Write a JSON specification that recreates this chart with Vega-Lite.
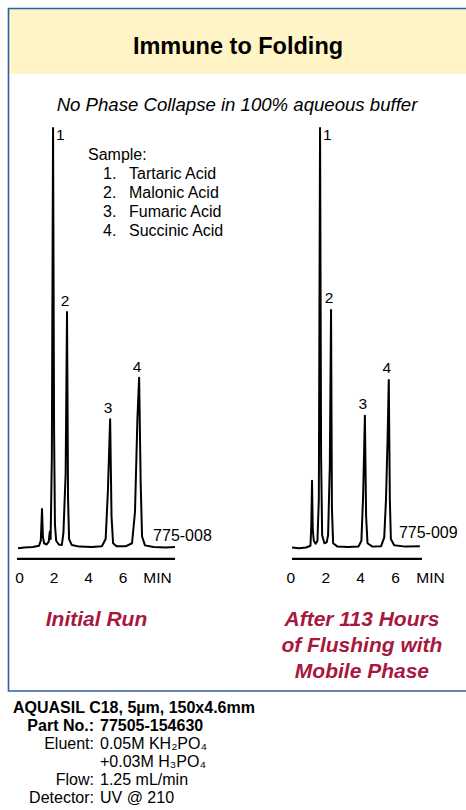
{
  "$schema": "https://vega.github.io/schema/vega-lite/v6.json",
  "width": 466,
  "height": 810,
  "autosize": {"type": "none"},
  "padding": 0,
  "background": "white",
  "config": {"view": {"stroke": null}, "font": "Liberation Sans", "text": {"font": "Liberation Sans", "color": "black"}},
  "datasets": {
    "chrom": [
      {"run": "Initial Run", "t": -0.06, "signal": 0.4}, {"run": "Initial Run", "t": 0.3, "signal": 0.6}, {"run": "Initial Run", "t": 0.8, "signal": 0.7},
      {"run": "Initial Run", "t": 1.15, "signal": 1.0}, {"run": "Initial Run", "t": 1.26, "signal": 2.2}, {"run": "Initial Run", "t": 1.33, "signal": 9.7},
      {"run": "Initial Run", "t": 1.38, "signal": 3.2}, {"run": "Initial Run", "t": 1.45, "signal": 1.6}, {"run": "Initial Run", "t": 1.6, "signal": 1.3},
      {"run": "Initial Run", "t": 1.72, "signal": 2.0}, {"run": "Initial Run", "t": 1.78, "signal": 4.3}, {"run": "Initial Run", "t": 1.83, "signal": 2.6},
      {"run": "Initial Run", "t": 1.9, "signal": 22}, {"run": "Initial Run", "t": 1.97, "signal": 100}, {"run": "Initial Run", "t": 2.03, "signal": 28},
      {"run": "Initial Run", "t": 2.08, "signal": 6}, {"run": "Initial Run", "t": 2.15, "signal": 2.2}, {"run": "Initial Run", "t": 2.3, "signal": 1.3},
      {"run": "Initial Run", "t": 2.48, "signal": 1.2}, {"run": "Initial Run", "t": 2.57, "signal": 4.0}, {"run": "Initial Run", "t": 2.7, "signal": 18},
      {"run": "Initial Run", "t": 2.78, "signal": 56.4}, {"run": "Initial Run", "t": 2.84, "signal": 12}, {"run": "Initial Run", "t": 2.9, "signal": 2.6},
      {"run": "Initial Run", "t": 3.05, "signal": 1.2}, {"run": "Initial Run", "t": 3.5, "signal": 0.8}, {"run": "Initial Run", "t": 4.2, "signal": 0.7},
      {"run": "Initial Run", "t": 4.8, "signal": 0.9}, {"run": "Initial Run", "t": 5.02, "signal": 2.6}, {"run": "Initial Run", "t": 5.15, "signal": 14},
      {"run": "Initial Run", "t": 5.28, "signal": 31.0}, {"run": "Initial Run", "t": 5.36, "signal": 8}, {"run": "Initial Run", "t": 5.45, "signal": 1.6},
      {"run": "Initial Run", "t": 5.65, "signal": 0.9}, {"run": "Initial Run", "t": 6.2, "signal": 0.9}, {"run": "Initial Run", "t": 6.55, "signal": 1.6},
      {"run": "Initial Run", "t": 6.72, "signal": 9}, {"run": "Initial Run", "t": 6.86, "signal": 31}, {"run": "Initial Run", "t": 6.96, "signal": 40.8},
      {"run": "Initial Run", "t": 7.05, "signal": 16}, {"run": "Initial Run", "t": 7.13, "signal": 3.2}, {"run": "Initial Run", "t": 7.3, "signal": 1.1},
      {"run": "Initial Run", "t": 7.8, "signal": 0.7}, {"run": "Initial Run", "t": 8.5, "signal": 0.6}, {"run": "Initial Run", "t": 9.04, "signal": 0.7},
      {"run": "After 113 Hours", "t": 0.09, "signal": 0.6}, {"run": "After 113 Hours", "t": 0.5, "signal": 0.4}, {"run": "After 113 Hours", "t": 0.9, "signal": 0.6},
      {"run": "After 113 Hours", "t": 1.15, "signal": 1.0}, {"run": "After 113 Hours", "t": 1.2, "signal": 6}, {"run": "After 113 Hours", "t": 1.24, "signal": 16.4},
      {"run": "After 113 Hours", "t": 1.28, "signal": 5}, {"run": "After 113 Hours", "t": 1.34, "signal": 2.2}, {"run": "After 113 Hours", "t": 1.45, "signal": 1.5},
      {"run": "After 113 Hours", "t": 1.55, "signal": 2.2}, {"run": "After 113 Hours", "t": 1.63, "signal": 12}, {"run": "After 113 Hours", "t": 1.7, "signal": 100},
      {"run": "After 113 Hours", "t": 1.76, "signal": 22}, {"run": "After 113 Hours", "t": 1.82, "signal": 3.5}, {"run": "After 113 Hours", "t": 1.95, "signal": 1.6},
      {"run": "After 113 Hours", "t": 2.08, "signal": 1.8}, {"run": "After 113 Hours", "t": 2.16, "signal": 3.5}, {"run": "After 113 Hours", "t": 2.26, "signal": 20},
      {"run": "After 113 Hours", "t": 2.33, "signal": 56.9}, {"run": "After 113 Hours", "t": 2.38, "signal": 10}, {"run": "After 113 Hours", "t": 2.45, "signal": 1.6},
      {"run": "After 113 Hours", "t": 2.7, "signal": 0.8}, {"run": "After 113 Hours", "t": 3.3, "signal": 0.7}, {"run": "After 113 Hours", "t": 3.9, "signal": 0.8},
      {"run": "After 113 Hours", "t": 4.07, "signal": 2.2}, {"run": "After 113 Hours", "t": 4.17, "signal": 13}, {"run": "After 113 Hours", "t": 4.27, "signal": 31.8},
      {"run": "After 113 Hours", "t": 4.34, "signal": 8}, {"run": "After 113 Hours", "t": 4.42, "signal": 1.6}, {"run": "After 113 Hours", "t": 4.7, "signal": 0.8},
      {"run": "After 113 Hours", "t": 5.2, "signal": 0.9}, {"run": "After 113 Hours", "t": 5.38, "signal": 3}, {"run": "After 113 Hours", "t": 5.48, "signal": 12},
      {"run": "After 113 Hours", "t": 5.57, "signal": 26}, {"run": "After 113 Hours", "t": 5.64, "signal": 40.3}, {"run": "After 113 Hours", "t": 5.7, "signal": 12},
      {"run": "After 113 Hours", "t": 5.76, "signal": 2.6}, {"run": "After 113 Hours", "t": 5.95, "signal": 1.1}, {"run": "After 113 Hours", "t": 6.6, "signal": 0.8},
      {"run": "After 113 Hours", "t": 7.42, "signal": 0.9}
    ],
    "peaks": [
      {"run": "Initial Run", "peak": 1, "t": 1.97, "height": 100},
      {"run": "Initial Run", "peak": 2, "t": 2.78, "height": 56.4},
      {"run": "Initial Run", "peak": 3, "t": 5.28, "height": 31.0},
      {"run": "Initial Run", "peak": 4, "t": 6.96, "height": 40.8},
      {"run": "After 113 Hours", "peak": 1, "t": 1.70, "height": 100},
      {"run": "After 113 Hours", "peak": 2, "t": 2.33, "height": 56.9},
      {"run": "After 113 Hours", "peak": 3, "t": 4.27, "height": 31.8},
      {"run": "After 113 Hours", "peak": 4, "t": 5.64, "height": 40.3}
    ],
    "compounds": [
      {"peak": 1, "compound": "Tartaric Acid"},
      {"peak": 2, "compound": "Malonic Acid"},
      {"peak": 3, "compound": "Fumaric Acid"},
      {"peak": 4, "compound": "Succinic Acid"}
    ],
    "runs": [
      {"run": "Initial Run", "code": "775-008", "caption": ["Initial Run"]},
      {"run": "After 113 Hours", "code": "775-009", "caption": ["After 113 Hours", "of Flushing with", "Mobile Phase"]}
    ],
    "footer": [
      {"line": 0, "label": "", "value": "AQUASIL C18, 5µm, 150x4.6mm"},
      {"line": 1, "label": "Part No.:", "value": "77505-154630"},
      {"line": 2, "label": "Eluent:", "value": "0.05M KH₂PO₄"},
      {"line": 3, "label": "", "value": "+0.03M H₃PO₄"},
      {"line": 4, "label": "Flow:", "value": "1.25 mL/min"},
      {"line": 5, "label": "Detector:", "value": "UV @ 210"}
    ]
  },
  "layer": [
    {
      "data": {"values": [{}]},
      "mark": {"type": "rect", "fill": "#FFF4C6", "stroke": null},
      "encoding": {"x": {"value": 9}, "x2": {"value": 470}, "y": {"value": 9}, "y2": {"value": 74}}
    },
    {
      "data": {"values": [{}]},
      "mark": {"type": "rect", "fill": null, "stroke": "#2F5DAA", "strokeWidth": 1.6},
      "encoding": {"x": {"value": 8.5}, "x2": {"value": 480}, "y": {"value": 8.5}, "y2": {"value": 691}}
    },
    {
      "data": {"values": [{}]},
      "mark": {"type": "text", "fontSize": 23.5, "fontWeight": "bold", "align": "center", "baseline": "middle"},
      "encoding": {"x": {"value": 238}, "y": {"value": 47}, "text": {"value": "Immune to Folding"}}
    },
    {
      "data": {"values": [{}]},
      "mark": {"type": "text", "fontSize": 18.6, "fontStyle": "italic", "align": "center", "baseline": "middle"},
      "encoding": {"x": {"value": 237}, "y": {"value": 105}, "text": {"value": "No Phase Collapse in 100% aqueous buffer"}}
    },
    {
      "layer": [
        {
          "data": {"name": "chrom"},
          "transform": [{"filter": "datum.run === 'Initial Run'"}],
          "mark": {"type": "line", "color": "black", "strokeWidth": 2, "strokeJoin": "round"},
          "encoding": {
            "x": {"field": "t", "type": "quantitative",
                  "scale": {"domain": [-0.12, 9.04], "range": [17, 175], "zero": false, "nice": false},
                  "axis": {"orient": "bottom", "offset": -250, "values": [0, 2, 4, 6, 8], "format": "d", "labelExpr": "datum.value == 8 ? 'MIN' : datum.label",
                           "domain": false, "ticks": false, "grid": false, "title": null, "labelFontSize": 15.5, "labelColor": "black",
                           "labelFont": "Liberation Sans", "labelPadding": 10, "labelFlush": false, "labelOverlap": false, "labelBound": false}},
            "y": {"field": "signal", "type": "quantitative", "scale": {"domain": [0, 100], "range": [550, 128], "zero": false, "nice": false}, "axis": null}
          }
        },
        {
          "data": {"values": [{}]},
          "mark": {"type": "rule", "color": "black", "strokeWidth": 2.2},
          "encoding": {"x": {"datum": -0.12, "type": "quantitative"}, "x2": {"datum": 9.04}, "y": {"datum": -2.1, "type": "quantitative"}}
        },
        {
          "data": {"name": "peaks"},
          "transform": [{"filter": "datum.run === 'Initial Run' && datum.peak > 1"}],
          "mark": {"type": "text", "fontSize": 15.5, "align": "center", "baseline": "alphabetic", "dx": -2, "dy": -6},
          "encoding": {"x": {"field": "t", "type": "quantitative"}, "y": {"field": "height", "type": "quantitative"}, "text": {"field": "peak", "type": "nominal"}}
        },
        {
          "data": {"name": "peaks"},
          "transform": [{"filter": "datum.run === 'Initial Run' && datum.peak == 1"}],
          "mark": {"type": "text", "fontSize": 15.5, "align": "left", "baseline": "alphabetic", "dx": 3, "dy": 12},
          "encoding": {"x": {"field": "t", "type": "quantitative"}, "y": {"field": "height", "type": "quantitative"}, "text": {"field": "peak", "type": "nominal"}}
        },
        {
          "data": {"name": "runs"},
          "transform": [{"filter": "datum.run === 'Initial Run'"}],
          "mark": {"type": "text", "fontSize": 16, "align": "left", "baseline": "middle"},
          "encoding": {"x": {"datum": 7.77, "type": "quantitative"}, "y": {"datum": 3.3, "type": "quantitative"}, "text": {"field": "code", "type": "nominal"}}
        },
        {
          "data": {"name": "runs"},
          "transform": [{"filter": "datum.run === 'Initial Run'"}],
          "mark": {"type": "text", "fontSize": 21, "fontWeight": "bold", "fontStyle": "italic", "color": "#A8183E", "align": "center", "baseline": "alphabetic", "lineHeight": 26},
          "encoding": {"x": {"datum": 4.49, "type": "quantitative"}, "y": {"datum": -17.9, "type": "quantitative"}, "text": {"field": "caption", "type": "nominal"}}
        }
      ]
    },
    {
      "layer": [
        {
          "data": {"name": "chrom"},
          "transform": [{"filter": "datum.run === 'After 113 Hours'"}],
          "mark": {"type": "line", "color": "black", "strokeWidth": 2, "strokeJoin": "round"},
          "encoding": {
            "x": {"field": "t", "type": "quantitative",
                  "scale": {"domain": [0, 8.1], "range": [290.4, 431.7], "zero": false, "nice": false},
                  "axis": {"orient": "bottom", "offset": -250, "values": [0, 2, 4, 6, 8], "format": "d", "labelExpr": "datum.value == 8 ? 'MIN' : datum.label",
                           "domain": false, "ticks": false, "grid": false, "title": null, "labelFontSize": 15.5, "labelColor": "black",
                           "labelFont": "Liberation Sans", "labelPadding": 10, "labelFlush": false, "labelOverlap": false, "labelBound": false}},
            "y": {"field": "signal", "type": "quantitative", "scale": {"domain": [0, 100], "range": [550, 128], "zero": false, "nice": false}, "axis": null}
          }
        },
        {
          "data": {"values": [{}]},
          "mark": {"type": "rule", "color": "black", "strokeWidth": 2.2},
          "encoding": {"x": {"datum": 0.09, "type": "quantitative"}, "x2": {"datum": 7.54}, "y": {"datum": -2.1, "type": "quantitative"}}
        },
        {
          "data": {"name": "peaks"},
          "transform": [{"filter": "datum.run === 'After 113 Hours' && datum.peak > 1"}],
          "mark": {"type": "text", "fontSize": 15.5, "align": "center", "baseline": "alphabetic", "dx": -2, "dy": -7},
          "encoding": {"x": {"field": "t", "type": "quantitative"}, "y": {"field": "height", "type": "quantitative"}, "text": {"field": "peak", "type": "nominal"}}
        },
        {
          "data": {"name": "peaks"},
          "transform": [{"filter": "datum.run === 'After 113 Hours' && datum.peak == 1"}],
          "mark": {"type": "text", "fontSize": 15.5, "align": "left", "baseline": "alphabetic", "dx": 3, "dy": 12},
          "encoding": {"x": {"field": "t", "type": "quantitative"}, "y": {"field": "height", "type": "quantitative"}, "text": {"field": "peak", "type": "nominal"}}
        },
        {
          "data": {"name": "runs"},
          "transform": [{"filter": "datum.run === 'After 113 Hours'"}],
          "mark": {"type": "text", "fontSize": 16, "align": "left", "baseline": "middle"},
          "encoding": {"x": {"datum": 6.22, "type": "quantitative"}, "y": {"datum": 4.0, "type": "quantitative"}, "text": {"field": "code", "type": "nominal"}}
        },
        {
          "data": {"name": "runs"},
          "transform": [{"filter": "datum.run === 'After 113 Hours'"}],
          "mark": {"type": "text", "fontSize": 21, "fontWeight": "bold", "fontStyle": "italic", "color": "#A8183E", "align": "center", "baseline": "alphabetic", "lineHeight": 26},
          "encoding": {"x": {"datum": 4.1, "type": "quantitative"}, "y": {"datum": -17.9, "type": "quantitative"}, "text": {"field": "caption", "type": "nominal"}}
        }
      ]
    },
    {
      "data": {"values": [{}]},
      "mark": {"type": "text", "fontSize": 16, "align": "left", "baseline": "middle"},
      "encoding": {"x": {"value": 88}, "y": {"value": 155}, "text": {"value": "Sample:"}}
    },
    {
      "data": {"name": "compounds"},
      "layer": [
        {
          "transform": [{"calculate": "datum.peak + '.'", "as": "num"}],
          "mark": {"type": "text", "fontSize": 16, "align": "left", "baseline": "middle"},
          "encoding": {"x": {"value": 103}, "y": {"field": "peak", "type": "quantitative", "scale": {"domain": [1, 4], "range": [174, 231]}, "axis": null}, "text": {"field": "num", "type": "nominal"}}
        },
        {
          "mark": {"type": "text", "fontSize": 16, "align": "left", "baseline": "middle"},
          "encoding": {"x": {"value": 129}, "y": {"field": "peak", "type": "quantitative"}, "text": {"field": "compound", "type": "nominal"}}
        }
      ]
    },
    {
      "data": {"name": "footer"},
      "layer": [
        {
          "transform": [{"filter": "datum.line == 0"}],
          "mark": {"type": "text", "fontSize": 16, "fontWeight": "bold", "align": "left", "baseline": "middle"},
          "encoding": {"x": {"value": 13}, "y": {"field": "line", "type": "quantitative", "scale": {"domain": [0, 5], "range": [708, 798]}, "axis": null}, "text": {"field": "value", "type": "nominal"}}
        },
        {
          "transform": [{"filter": "datum.line == 1"}],
          "mark": {"type": "text", "fontSize": 16, "fontWeight": "bold", "align": "right", "baseline": "middle"},
          "encoding": {"x": {"value": 94}, "y": {"field": "line", "type": "quantitative"}, "text": {"field": "label", "type": "nominal"}}
        },
        {
          "transform": [{"filter": "datum.line == 1"}],
          "mark": {"type": "text", "fontSize": 16, "fontWeight": "bold", "align": "left", "baseline": "middle"},
          "encoding": {"x": {"value": 100}, "y": {"field": "line", "type": "quantitative"}, "text": {"field": "value", "type": "nominal"}}
        },
        {
          "transform": [{"filter": "datum.line >= 2"}],
          "mark": {"type": "text", "fontSize": 16, "align": "right", "baseline": "middle"},
          "encoding": {"x": {"value": 94}, "y": {"field": "line", "type": "quantitative"}, "text": {"field": "label", "type": "nominal"}}
        },
        {
          "transform": [{"filter": "datum.line >= 2"}],
          "mark": {"type": "text", "fontSize": 16, "align": "left", "baseline": "middle"},
          "encoding": {"x": {"value": 100}, "y": {"field": "line", "type": "quantitative"}, "text": {"field": "value", "type": "nominal"}}
        }
      ]
    }
  ],
  "resolve": {"scale": {"x": "independent", "y": "independent"}, "axis": {"x": "independent", "y": "independent"}}
}
